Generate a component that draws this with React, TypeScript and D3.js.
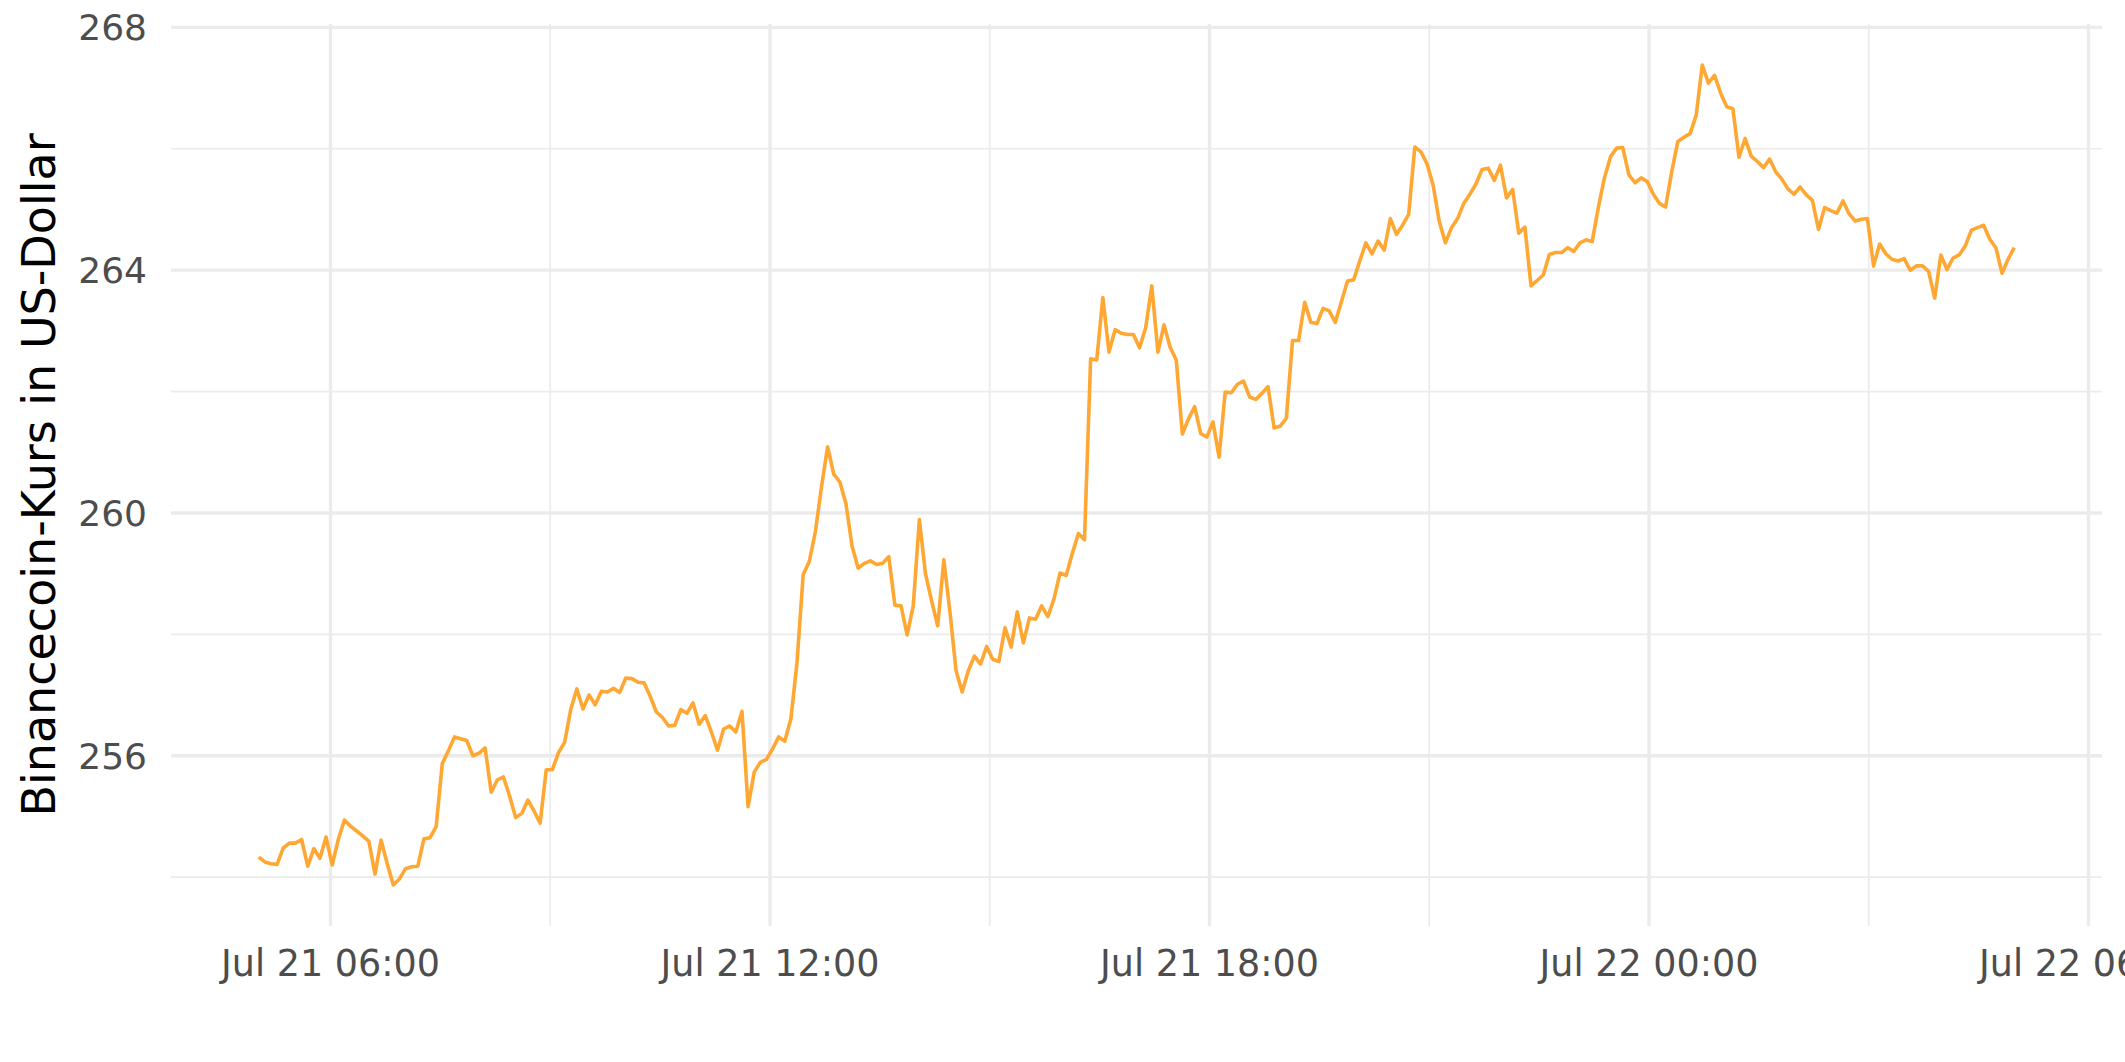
import React from "react";
import * as d3 from "d3";

// Binancecoin price, 5-minute samples from Jul 21 ~05:01 to Jul 22 ~04:59 (UTC)
const startTime = "2022-07-21T05:01:16Z";
const stepSeconds = 300.6;
const prices: number[] = [
  254.33, 254.25, 254.22, 254.21, 254.48, 254.56, 254.56, 254.62, 254.18, 254.47,
  254.31, 254.66, 254.20, 254.62, 254.94, 254.84, 254.76, 254.68, 254.59, 254.05,
  254.61, 254.22, 253.87, 253.97, 254.14, 254.17, 254.18, 254.63, 254.65, 254.83,
  255.87, 256.08, 256.31, 256.28, 256.25, 256.00, 256.04, 256.13, 255.40, 255.60,
  255.65, 255.34, 254.98, 255.05, 255.27, 255.09, 254.89, 255.77, 255.77, 256.05,
  256.22, 256.76, 257.10, 256.77, 257.00, 256.84, 257.06, 257.05, 257.11, 257.04,
  257.28, 257.27, 257.21, 257.20, 256.98, 256.72, 256.63, 256.49, 256.50, 256.76,
  256.70, 256.87, 256.52, 256.66, 256.39, 256.09, 256.44, 256.49, 256.39, 256.73,
  255.16, 255.73, 255.89, 255.94, 256.11, 256.31, 256.24, 256.61, 257.54, 258.98,
  259.20, 259.69, 260.43, 261.09, 260.64, 260.51, 260.15, 259.45, 259.09, 259.17,
  259.21, 259.15, 259.17, 259.28, 258.48, 258.47, 257.99, 258.47, 259.89, 259.00,
  258.55, 258.14, 259.23, 258.37, 257.40, 257.05, 257.40, 257.64, 257.51, 257.80,
  257.59, 257.55, 258.11, 257.79, 258.37, 257.86, 258.27, 258.25, 258.47, 258.29,
  258.58, 259.01, 258.97, 259.33, 259.66, 259.56, 262.54, 262.52, 263.55, 262.65,
  263.02, 262.96, 262.94, 262.94, 262.72, 263.05, 263.74, 262.65, 263.10, 262.73,
  262.52, 261.30, 261.55, 261.75, 261.31, 261.25, 261.50, 260.92, 261.99, 261.98,
  262.12, 262.17, 261.91, 261.87, 261.97, 262.08, 261.40, 261.43, 261.56, 262.84,
  262.84, 263.47, 263.14, 263.12, 263.37, 263.33, 263.14, 263.48, 263.82, 263.84,
  264.15, 264.45, 264.27, 264.48, 264.33, 264.85, 264.59, 264.74, 264.92, 266.03,
  265.95, 265.75, 265.40, 264.80, 264.45, 264.70, 264.85, 265.10, 265.25, 265.42,
  265.66, 265.68, 265.48, 265.73, 265.19, 265.33, 264.61, 264.71, 263.74, 263.83,
  263.92, 264.26, 264.29, 264.29, 264.37, 264.31, 264.45, 264.50, 264.47, 265.03,
  265.52, 265.87, 266.01, 266.02, 265.57, 265.44, 265.52, 265.46, 265.25, 265.10,
  265.04, 265.62, 266.12, 266.19, 266.25, 266.55, 267.38, 267.08, 267.21, 266.92,
  266.69, 266.66, 265.86, 266.17, 265.88, 265.79, 265.69, 265.83, 265.62, 265.50,
  265.34, 265.25, 265.37, 265.24, 265.15, 264.67, 265.03, 264.98, 264.94, 265.14,
  264.93, 264.81, 264.84, 264.85, 264.07, 264.43, 264.27, 264.18, 264.15, 264.19,
  264.00, 264.07, 264.07, 263.98, 263.54, 264.25, 264.01, 264.20, 264.25, 264.40,
  264.66, 264.70, 264.74, 264.51, 264.37, 263.95, 264.18, 264.37,
];

const yMajorTicks = [256, 260, 264, 268];
const yMinorTicks = [254, 258, 262, 266];
const yTitle = "Binancecoin-Kurs in US-Dollar";

const W = 2125;
const H = 1062;
const M = { left: 171, right: 2102, top: 24, bottom: 926 };

export default function App() {
  const t0 = new Date(startTime).getTime();
  const data = prices.map((v, i) => ({ t: new Date(t0 + i * stepSeconds * 1000), v }));

  const tExt = d3.extent(data, (d) => d.t.getTime()) as [number, number];
  const tPad = (tExt[1] - tExt[0]) * 0.05;
  const x = d3
    .scaleUtc()
    .domain([new Date(tExt[0] - tPad), new Date(tExt[1] + tPad)])
    .range([M.left, M.right]);

  const vExt = d3.extent(prices) as [number, number];
  const vPad = (vExt[1] - vExt[0]) * 0.05;
  const y = d3
    .scaleLinear()
    .domain([vExt[0] - vPad, vExt[1] + vPad])
    .range([M.bottom, M.top]);

  const hourTicks = d3.utcHour.every(3)!.range(x.domain()[0], x.domain()[1]);
  const xMajor = hourTicks.filter((d) => d.getUTCHours() % 6 === 0);
  const xMinor = hourTicks.filter((d) => d.getUTCHours() % 6 !== 0);
  const fmt = d3.utcFormat("%b %d %H:%M");

  const line = d3
    .line<{ t: Date; v: number }>()
    .x((d) => x(d.t))
    .y((d) => y(d.v));

  const grid = "#EBEBEB";
  const font = "'DejaVu Sans', sans-serif";

  return (
    <svg
      width={W}
      height={H}
      style={{ position: "absolute", left: 0, top: 0, background: "#fff" }}
    >
      <rect x={0} y={0} width={W} height={H} fill="#fff" />
      {yMinorTicks.map((t) => (
        <line key={"ym" + t} x1={M.left} x2={M.right} y1={y(t)} y2={y(t)} stroke={grid} strokeWidth={1.7} />
      ))}
      {xMinor.map((t) => (
        <line key={"xm" + t.getTime()} x1={x(t)} x2={x(t)} y1={M.top} y2={M.bottom} stroke={grid} strokeWidth={1.7} />
      ))}
      {yMajorTicks.map((t) => (
        <line key={"yM" + t} x1={M.left} x2={M.right} y1={y(t)} y2={y(t)} stroke={grid} strokeWidth={3.4} />
      ))}
      {xMajor.map((t) => (
        <line key={"xM" + t.getTime()} x1={x(t)} x2={x(t)} y1={M.top} y2={M.bottom} stroke={grid} strokeWidth={3.4} />
      ))}
      <path d={line(data) ?? ""} fill="none" stroke="#FFA733" strokeWidth={3.6} strokeLinejoin="round" />
      {yMajorTicks.map((t) => (
        <text
          key={"yl" + t}
          x={147}
          y={y(t)}
          dy="0.36em"
          textAnchor="end"
          fontFamily={font}
          fontSize={36}
          fill="#4D4D4D"
        >
          {t}
        </text>
      ))}
      {xMajor.map((t) => (
        <text
          key={"xl" + t.getTime()}
          x={x(t)}
          y={976}
          textAnchor="middle"
          fontFamily={font}
          fontSize={36.5}
          fill="#4D4D4D"
        >
          {fmt(t)}
        </text>
      ))}
      <text
        transform={`translate(55, ${(M.top + M.bottom) / 2}) rotate(-90)`}
        textAnchor="middle"
        fontFamily={font}
        fontSize={46}
        fill="#000"
      >
        {yTitle}
      </text>
    </svg>
  );
}
